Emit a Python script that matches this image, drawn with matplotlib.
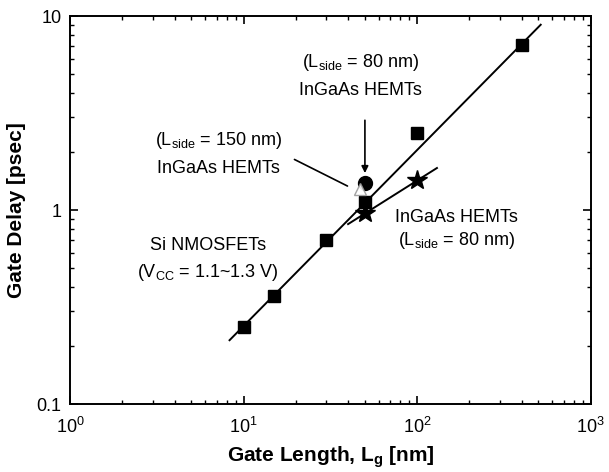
import matplotlib
matplotlib.use('Agg')
import matplotlib.pyplot as plt
import numpy as np

plt.rcParams['font.family'] = ['Liberation Sans', 'DejaVu Sans']
plt.rcParams['mathtext.fontset'] = 'custom'
plt.rcParams['mathtext.rm'] = 'Liberation Sans'
plt.rcParams['mathtext.it'] = 'Liberation Sans:italic'
plt.rcParams['mathtext.bf'] = 'Liberation Sans:bold'

# a. data
si_length = [10, 15, 30, 50, 100, 400]
si_delay = [0.25, 0.36, 0.70, 1.10, 2.50, 7.1]
si_fit_exclude = [100]          # point left out of the fitted line
si_fit_range = [8.3, 515]

hemt80_length = [50, 100]
hemt80_delay = [0.96, 1.42]
hemt80_fit_range = [40, 130]

hemt80b_length = [50]
hemt80b_delay = [1.38]

hemt150_length = [47]
hemt150_delay = [1.28]

# b. figure
fig = plt.figure(figsize=(6.09, 4.72), dpi=100)
ax = fig.add_axes([0.115, 0.144, 0.855, 0.822])
ax.set_xscale('log')
ax.set_yscale('log')
ax.set_xlim(1, 1000)
ax.set_ylim(0.1, 10)

# c. fitted lines (log-log)
fit_x = [x for x in si_length if x not in si_fit_exclude]
fit_y = [y for x, y in zip(si_length, si_delay) if x not in si_fit_exclude]
p = np.polyfit(np.log10(fit_x), np.log10(fit_y), 1)
xf = np.array(si_fit_range)
ax.plot(xf, 10 ** np.polyval(p, np.log10(xf)), color='black', lw=1.4)

p2 = np.polyfit(np.log10(hemt80_length), np.log10(hemt80_delay), 1)
xf2 = np.array(hemt80_fit_range)
ax.plot(xf2, 10 ** np.polyval(p2, np.log10(xf2)), color='black', lw=1.4)

# d. markers
ax.plot(si_length, si_delay, 's', color='black', ms=9)
ax.plot(hemt80_length, hemt80_delay, '*', color='black', ms=15)
ax.plot(hemt80b_length, hemt80b_delay, 'o', color='black', ms=10)
ax.plot(hemt150_length, hemt150_delay, '^', mfc='white', mec='0.6',
        ms=9, ls='none', markeredgewidth=1, alpha=0.9)

# e. annotations
fs = 13
ax.text(47.3, 5.78, r'(L$_{\mathrm{side}}$ = 80 nm)', ha='center', va='center', fontsize=fs)
ax.text(47.3, 4.15, 'InGaAs HEMTs', ha='center', va='center', fontsize=fs)
ax.annotate('', xy=(50, 1.5), xytext=(50, 3.0),
            arrowprops=dict(arrowstyle='-|>', color='black', lw=1.2, mutation_scale=10))

ax.text(7.2, 2.29, r'(L$_{\mathrm{side}}$ = 150 nm)', ha='center', va='center', fontsize=fs)
ax.text(7.2, 1.64, 'InGaAs HEMTs', ha='center', va='center', fontsize=fs)
ax.annotate('', xy=(41, 1.31), xytext=(19, 1.85),
            arrowprops=dict(arrowstyle='-', color='black', lw=1.2))

ax.text(6.2, 0.656, 'Si NMOSFETs', ha='center', va='center', fontsize=fs)
ax.text(6.2, 0.475, r'(V$_{\mathrm{CC}}$ = 1.1~1.3 V)', ha='center', va='center', fontsize=fs)

ax.text(169, 0.914, 'InGaAs HEMTs', ha='center', va='center', fontsize=fs)
ax.text(169, 0.695, r'(L$_{\mathrm{side}}$ = 80 nm)', ha='center', va='center', fontsize=fs)

# f. axes styling
ax.set_yticks([0.1, 1, 10])
ax.set_yticklabels(['0.1', '1', '10'])
ax.set_xticks([1, 10, 100, 1000])
ax.set_xticklabels([r'$10^0$', r'$10^1$', r'$10^2$', r'$10^3$'])
ax.tick_params(which='both', direction='in', top=True, right=True, labelsize=13)
ax.tick_params(axis='x', which='major', pad=9)
ax.tick_params(axis='y', which='major', pad=6)
ax.tick_params(which='major', length=6, width=1.2)
ax.tick_params(which='minor', length=3, width=1)
for s in ax.spines.values():
    s.set_linewidth(1.4)

ax.set_xlabel(r'Gate Length, L$_{\mathbf{g}}$ [nm]', fontsize=15, fontweight='bold', labelpad=6)
ax.set_ylabel('Gate Delay [psec]', fontsize=15, fontweight='bold', labelpad=8)

fig.savefig('out.png', dpi=100)
